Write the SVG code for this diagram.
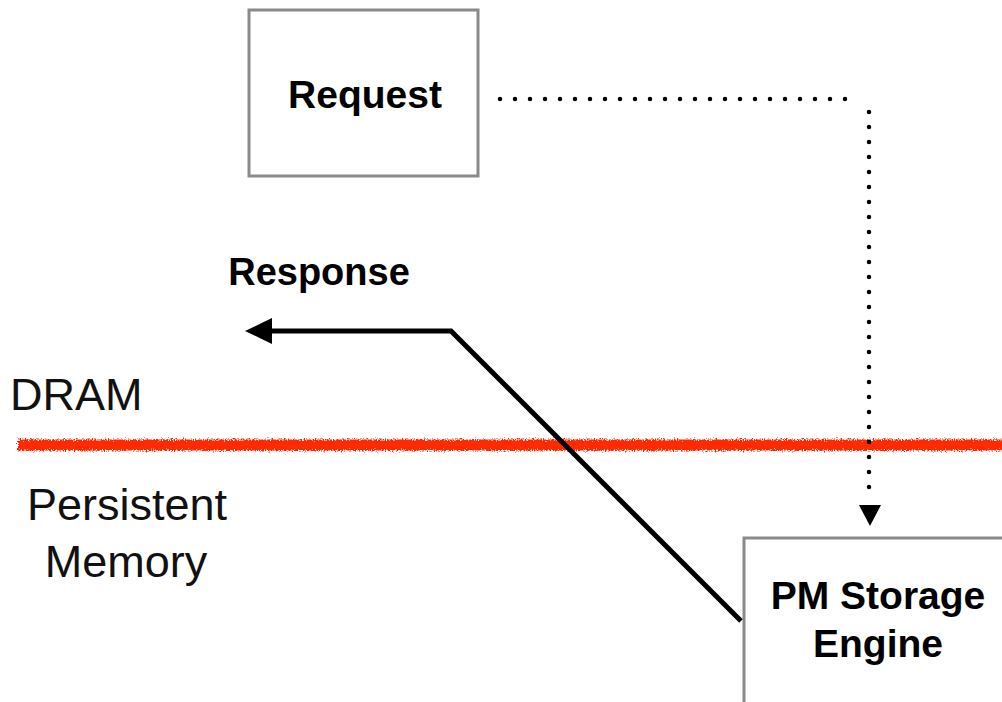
<svg xmlns="http://www.w3.org/2000/svg" width="1002" height="702" viewBox="0 0 1002 702">
  <style>
    .box { fill: #ffffff; stroke: #8a8a8a; stroke-width: 3; }
    .bold { font-family: "Liberation Sans", Arial, sans-serif; font-weight: bold; fill: #000000; }
    .light { font-family: "Liberation Sans", Arial, sans-serif; font-weight: normal; fill: #111111; }
    .dots { fill: none; stroke: #000000; stroke-width: 4.5; stroke-linecap: round; stroke-dasharray: 0 15; }
    .solid { fill: none; stroke: #000000; stroke-width: 5; stroke-linejoin: miter; }
  </style>
  <defs>
    <filter id="rough" filterUnits="userSpaceOnUse" x="0" y="420" width="1002" height="50">
      <feTurbulence type="fractalNoise" baseFrequency="0.9 0.6" numOctaves="2" seed="3" result="n"/>
      <feDisplacementMap in="SourceGraphic" in2="n" scale="7" xChannelSelector="R" yChannelSelector="G"/>
    </filter>
  </defs>

  <g id="boundary">
    <rect x="18" y="439.5" width="990" height="11" fill="#ff2a00" filter="url(#rough)"/>
  </g>

  <g id="label-dram">
    <text class="light" x="10" y="410" font-size="45">DRAM</text>
  </g>

  <g id="label-pm">
    <text class="light" x="127" y="520" font-size="45" text-anchor="middle">Persistent</text>
    <text class="light" x="126" y="577" font-size="45" text-anchor="middle">Memory</text>
  </g>

  <g id="request">
    <rect class="box" x="249" y="10" width="229" height="166"/>
    <text class="bold" x="365" y="108" font-size="39" text-anchor="middle">Request</text>
  </g>

  <g id="pm-storage-engine">
    <rect class="box" x="744" y="538" width="300" height="200"/>
    <text class="bold" x="878" y="609" font-size="39" text-anchor="middle">PM Storage</text>
    <text class="bold" x="878" y="657" font-size="39" text-anchor="middle">Engine</text>
  </g>

  <g id="connectors">
    <line class="dots" x1="500" y1="99" x2="858" y2="99"/>
    <line class="dots" x1="869" y1="112" x2="869" y2="502"/>
    <polygon points="859,505 881,505 870,526" fill="#000000"/>
    <polyline class="solid" points="741,621 451,331 270,331"/>
    <polygon points="245,331 272,318 272,344" fill="#000000"/>
  </g>

  <g id="label-response">
    <text class="bold" x="319" y="285" font-size="38" text-anchor="middle">Response</text>
  </g>
</svg>
